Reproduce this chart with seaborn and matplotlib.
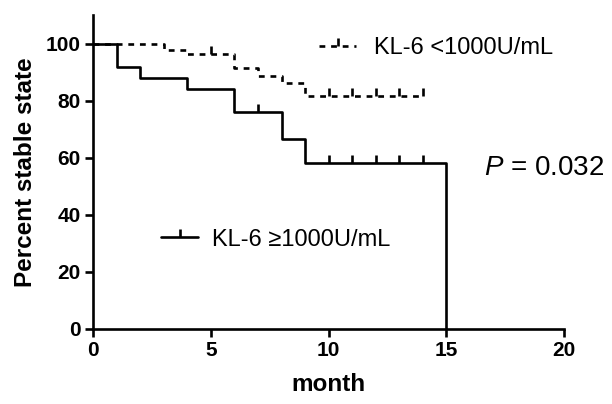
import seaborn as sns
import pandas as pd
import matplotlib.pyplot as plt
import numpy as np
from matplotlib.lines import Line2D

# KL-6 >= 1000 U/mL (solid)
high_time = [0, 1, 2, 4, 6, 8, 9, 15]
high_surv = [100, 92, 88, 84, 76, 66.5, 58.2, 0]
high_censor = [7, 10, 11, 12, 13, 14]

# KL-6 < 1000 U/mL (dashed)
low_time = [0, 3, 4, 6, 7, 8, 9, 14]
low_surv = [100, 98, 96.4, 91.7, 88.8, 86.4, 81.8, 81.8]
low_censor = [5, 10, 11, 12, 13, 14]

x_ticks = [0, 5, 10, 15, 20]
y_ticks = [0, 20, 40, 60, 80, 100]


def step_value(times, surv, t):
    i = np.searchsorted(times, t, side='right') - 1
    return surv[i]


sns.set_style('ticks')
plt.rcParams['font.family'] = ['Liberation Sans', 'DejaVu Sans']
plt.rcParams['mathtext.fontset'] = 'custom'
plt.rcParams['mathtext.it'] = 'Liberation Sans:italic'
plt.rcParams['mathtext.rm'] = 'Liberation Sans'
for k in ['text.color', 'axes.labelcolor', 'xtick.color', 'ytick.color', 'axes.edgecolor']:
    plt.rcParams[k] = 'black'

LW = 1.9
dash = (0, (2.2, 2.2))

fig = plt.figure(figsize=(6.12, 4.04), dpi=100)
ax = fig.add_axes([0.152, 0.186, 0.770, 0.776])

df_high = pd.DataFrame({'month': high_time, 'pct': high_surv})
df_low = pd.DataFrame({'month': low_time, 'pct': low_surv})

sns.lineplot(data=df_low, x='month', y='pct', drawstyle='steps-post', color='black',
             linewidth=LW, linestyle=dash, ax=ax)
sns.lineplot(data=df_high, x='month', y='pct', drawstyle='steps-post', color='black',
             linewidth=LW, ax=ax)

# censor marks
ax.plot(high_censor, [step_value(high_time, high_surv, t) for t in high_censor],
        linestyle='none', marker=2, markersize=6, mew=LW, color='black')
ax.plot(low_censor, [step_value(low_time, low_surv, t) for t in low_censor],
        linestyle='none', marker=2, markersize=6, mew=LW, color='black')

ax.set_xlim(0, 20)
ax.set_ylim(0, 110)
ax.set_xticks(x_ticks)
ax.set_yticks(y_ticks)
ax.spines['top'].set_visible(False)
ax.spines['right'].set_visible(False)
for s in ['left', 'bottom']:
    ax.spines[s].set_linewidth(LW)
ax.tick_params(width=LW, length=6, labelsize=15, pad=3)
for lab in ax.get_xticklabels() + ax.get_yticklabels():
    lab.set_fontweight('bold')
ax.set_xlabel('month', fontsize=17.5, fontweight='bold', labelpad=9)
ax.set_ylabel('Percent stable state', fontsize=17.5, fontweight='bold', labelpad=6)

h_low = Line2D([], [], color='black', linewidth=LW, linestyle=dash,
               marker=2, markersize=6, mew=LW)
h_high = Line2D([], [], color='black', linewidth=LW, marker=2, markersize=6, mew=LW)
leg1 = ax.legend([h_low], ['KL-6 <1000U/mL'], loc='center left', bbox_to_anchor=(0.435, 0.895),
                 frameon=False, fontsize=17, handlelength=1.55, handletextpad=0.75)
ax.add_artist(leg1)
ax.legend([h_high], ['KL-6 \u22651000U/mL'], loc='center left', bbox_to_anchor=(0.1, 0.285),
          frameon=False, fontsize=17, handlelength=1.55, handletextpad=0.6)

ax.text(16.6, 56.5, '$P$ = 0.032', fontsize=20, va='center', ha='left', clip_on=False)

plt.savefig('out.png', dpi=100)
